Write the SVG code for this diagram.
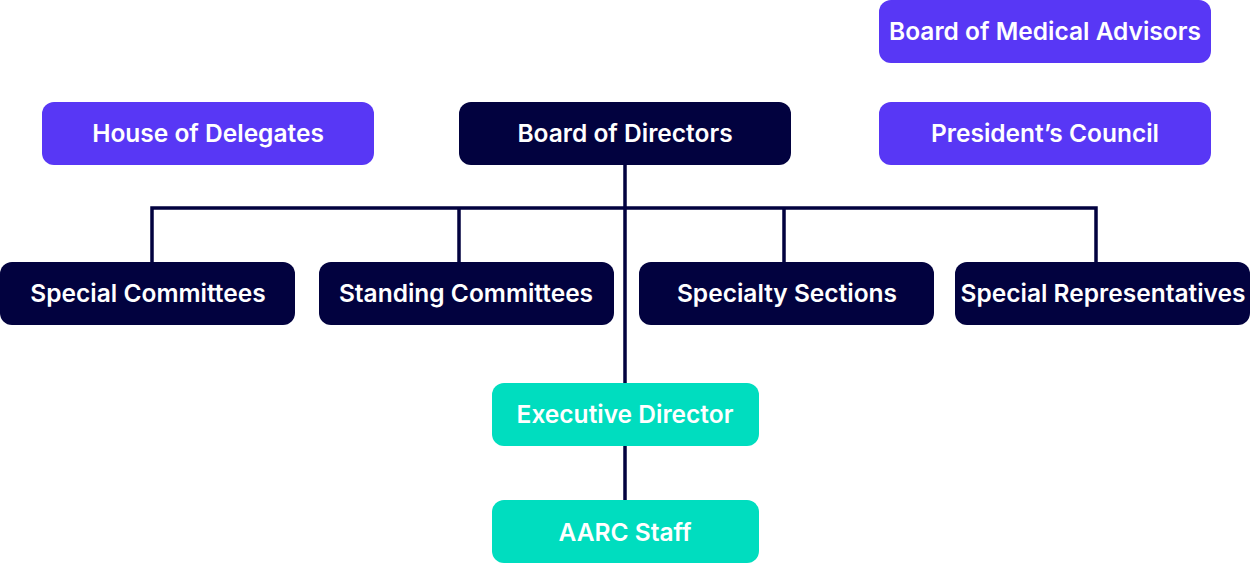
<svg xmlns="http://www.w3.org/2000/svg" width="1250" height="564" viewBox="0 0 1250 564">
<style>
.p{fill:#5837F5}
.n{fill:#02023F}
.t{fill:#00DDBF}
text{fill:#fff;font-family:Inter,"Open Sans","Liberation Sans",sans-serif;font-weight:600;font-size:24.5px;text-anchor:middle;dominant-baseline:central}
.c{stroke:#02023F;stroke-width:3.5;fill:none}
</style>
<rect width="1250" height="564" fill="#fff"/>
<g id="connectors">
<path class="c" d="M625,165V383M152,262V208H1096V262M459,208V262M784,208V262M625,446V500"/>
</g>
<g id="board-medical"><rect class="p" x="879" y="0" width="332" height="63" rx="12"/><text x="1045" y="31">Board of Medical Advisors</text></g>
<g id="house"><rect class="p" x="42" y="102" width="332" height="63" rx="12"/><text x="208" y="133">House of Delegates</text></g>
<g id="board-directors"><rect class="n" x="459" y="102" width="332" height="63" rx="12"/><text x="625" y="133">Board of Directors</text></g>
<g id="presidents-council"><rect class="p" x="879" y="102" width="332" height="63" rx="12"/><text x="1045" y="133">President’s Council</text></g>
<g id="special-committees"><rect class="n" x="0" y="262" width="295" height="63" rx="12"/><text x="148" y="293">Special Committees</text></g>
<g id="standing-committees"><rect class="n" x="319" y="262" width="295" height="63" rx="12"/><text x="466" y="293">Standing Committees</text></g>
<g id="specialty-sections"><rect class="n" x="639" y="262" width="295" height="63" rx="12"/><text x="787" y="293">Specialty Sections</text></g>
<g id="special-representatives"><rect class="n" x="955" y="262" width="295" height="63" rx="12"/><text x="1103" y="293">Special Representatives</text></g>
<g id="executive-director"><rect class="t" x="492" y="383" width="267" height="63" rx="12"/><text x="625" y="414">Executive Director</text></g>
<g id="aarc-staff"><rect class="t" x="492" y="500" width="267" height="63" rx="12"/><text x="625" y="532">AARC Staff</text></g>
</svg>
